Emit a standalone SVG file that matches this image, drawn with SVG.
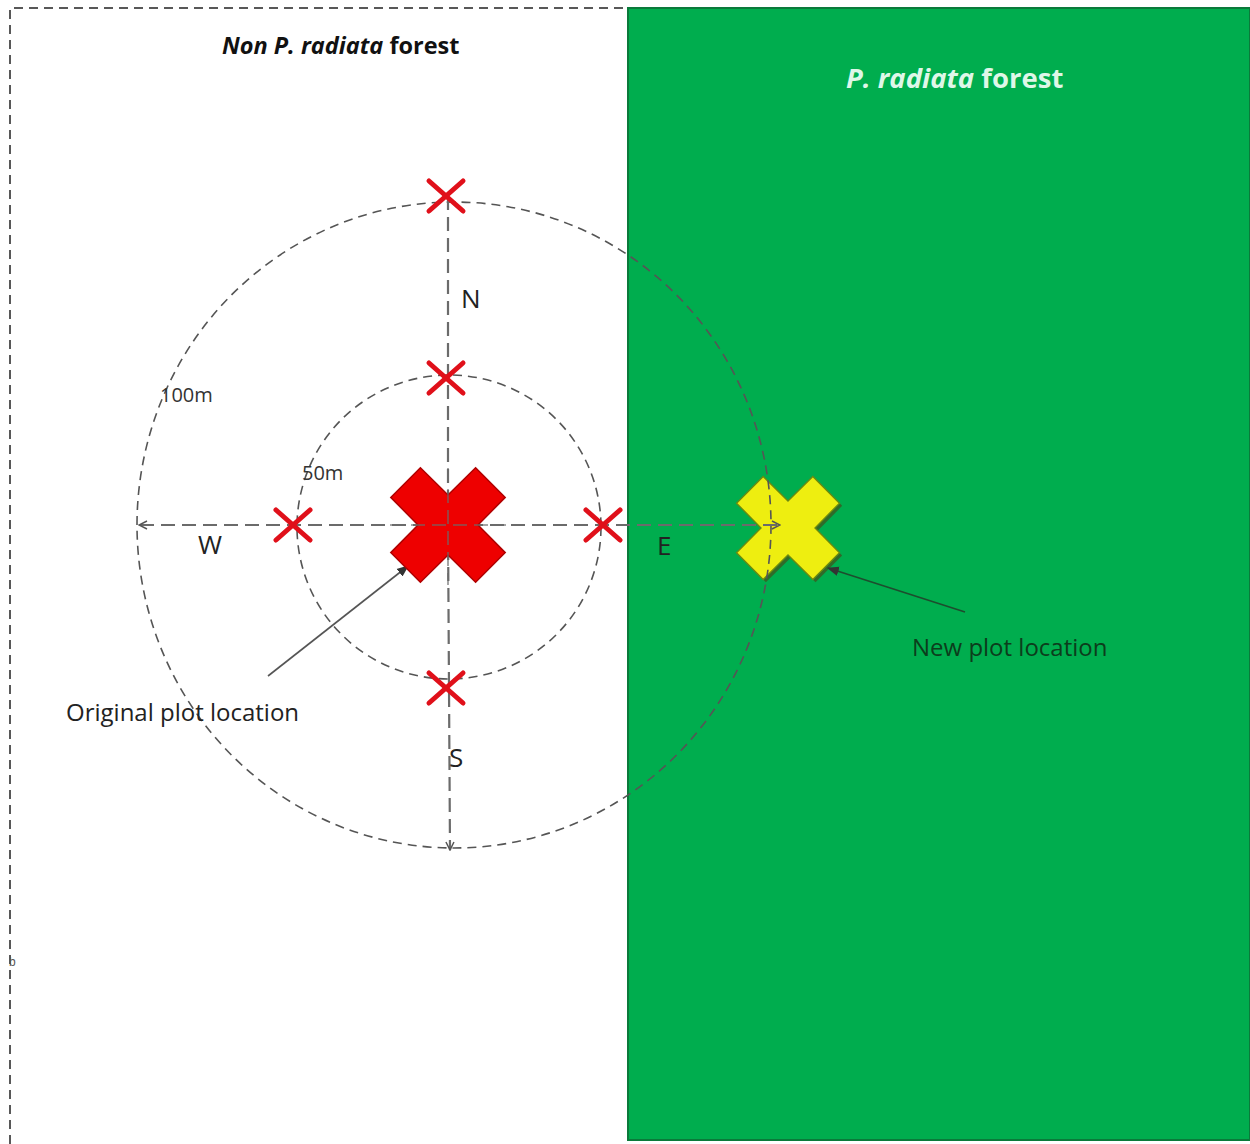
<svg xmlns="http://www.w3.org/2000/svg" width="1250" height="1144" viewBox="0 0 1250 1144">
<defs>
<style>
.lbl{font-family:"Open Sans","Liberation Sans",sans-serif;fill:#222}
.dim{font-family:"Open Sans","Liberation Sans",sans-serif;fill:#333;font-size:20px}
.ring{fill:none;stroke:#555;stroke-width:1.6;stroke-dasharray:9 6}
.axis{fill:none;stroke:#6b6b6b;stroke-width:2.2;stroke-dasharray:14 7}
.sx{stroke:#e0101a;stroke-width:5;stroke-linecap:round;fill:none}
.ptr{stroke:#555;stroke-width:1.6;fill:none}
</style>
<marker id="open" viewBox="0 0 10 10" refX="9" refY="5" markerWidth="10" markerHeight="10" markerUnits="userSpaceOnUse" orient="auto">
<path d="M1,1 L9,5 L1,9" fill="none" stroke="#555" stroke-width="1.5"/>
</marker>
<marker id="solid" viewBox="0 0 10 10" refX="9" refY="5" markerWidth="12" markerHeight="12" markerUnits="userSpaceOnUse" orient="auto">
<path d="M0,1 L10,5 L0,9 Z" fill="#333"/>
</marker>
<polygon id="bigx" points="0,-30 27.6,-57.2 57.2,-27.6 30,0 57.2,27.6 27.6,57.2 0,30 -27.6,57.2 -57.2,27.6 -30,0 -57.2,-27.6 -27.6,-57.2"/>
<g id="smallx"><line x1="-17" y1="-15" x2="17" y2="15"/><line x1="17" y1="-15" x2="-17" y2="15"/></g>
</defs>
<rect width="1250" height="1144" fill="#ffffff"/>
<g id="border">
<path d="M10,1144 L10,8 L628,8" fill="none" stroke="#222" stroke-width="1.5" stroke-dasharray="9 6"/>
</g>
<g id="radiata-forest">
<rect x="628" y="8" width="622" height="1132" fill="#00ad4e" stroke="#0a7a3a" stroke-width="2"/>
<text x="846" y="88" font-family="'Open Sans','Liberation Sans',sans-serif" font-size="27.5" font-weight="bold" fill="#dff7e8"><tspan font-style="italic">P. radiata</tspan> forest</text>
</g>
<g id="non-radiata-label">
<text x="222" y="54" font-family="'Open Sans','Liberation Sans',sans-serif" font-size="23.5" font-weight="bold" fill="#111"><tspan font-style="italic">Non P. radiata</tspan> forest</text>
</g>
<g id="new-plot">
<g transform="translate(788,528) scale(0.9)">
<use href="#bigx" x="3" y="3" fill="#2f6b2a"/>
<use href="#bigx" fill="#eeee10" stroke="#6b8a10" stroke-width="1.5"/>
</g>
<text x="912" y="656" font-family="'Open Sans','Liberation Sans',sans-serif" font-size="24" fill="#0c3d1c">New plot location</text>
</g>
<g id="connectors">
<ellipse class="ring" cx="454" cy="525" rx="317" ry="323"/>
<circle class="ring" cx="449" cy="527" r="152"/>
<line class="axis" x1="448" y1="525" x2="139" y2="525" marker-end="url(#open)"/>
<line class="axis" x1="448" y1="525" x2="780" y2="525" marker-end="url(#open)"/>
<line class="axis" x1="448" y1="196" x2="448" y2="525"/>
<line class="axis" x1="448" y1="525" x2="450" y2="850" marker-end="url(#open)"/>
<line class="ptr" x1="268" y1="676" x2="408" y2="566" marker-end="url(#solid)"/>
<line x1="965" y1="612" x2="828" y2="568" stroke="#1d4d2e" stroke-width="1.6" marker-end="url(#solid)"/>
</g>
<g id="original-plot">
<use href="#bigx" x="448" y="525" fill="#ee0000" stroke="#b00000" stroke-width="1.5"/>
<line x1="448" y1="468" x2="448" y2="585" stroke="#6b6b6b" stroke-width="2" stroke-dasharray="14 7" opacity="0.6"/>
<line x1="390" y1="525" x2="506" y2="525" stroke="#6b6b6b" stroke-width="2" stroke-dasharray="14 7" opacity="0.6"/>
<text class="lbl" x="66" y="721" font-size="24">Original plot location</text>
</g>
<g id="points" class="sx">
<use href="#smallx" x="446" y="196"/>
<use href="#smallx" x="446" y="378"/>
<use href="#smallx" x="293" y="525"/>
<use href="#smallx" x="603" y="525"/>
<use href="#smallx" x="446" y="688"/>
</g>
<g id="labels">
<text class="lbl" x="461" y="308" font-size="26">N</text>
<text class="lbl" x="198" y="554" font-size="26">W</text>
<text class="lbl" x="657" y="555" font-size="26">E</text>
<text class="lbl" x="449" y="767" font-size="26">S</text>
<text class="dim" x="160" y="402">100m</text>
<text class="dim" x="302" y="480">50m</text>
<text x="9" y="966" font-family="'Liberation Sans',sans-serif" font-size="12" fill="#555">b</text>
</g>
</svg>
